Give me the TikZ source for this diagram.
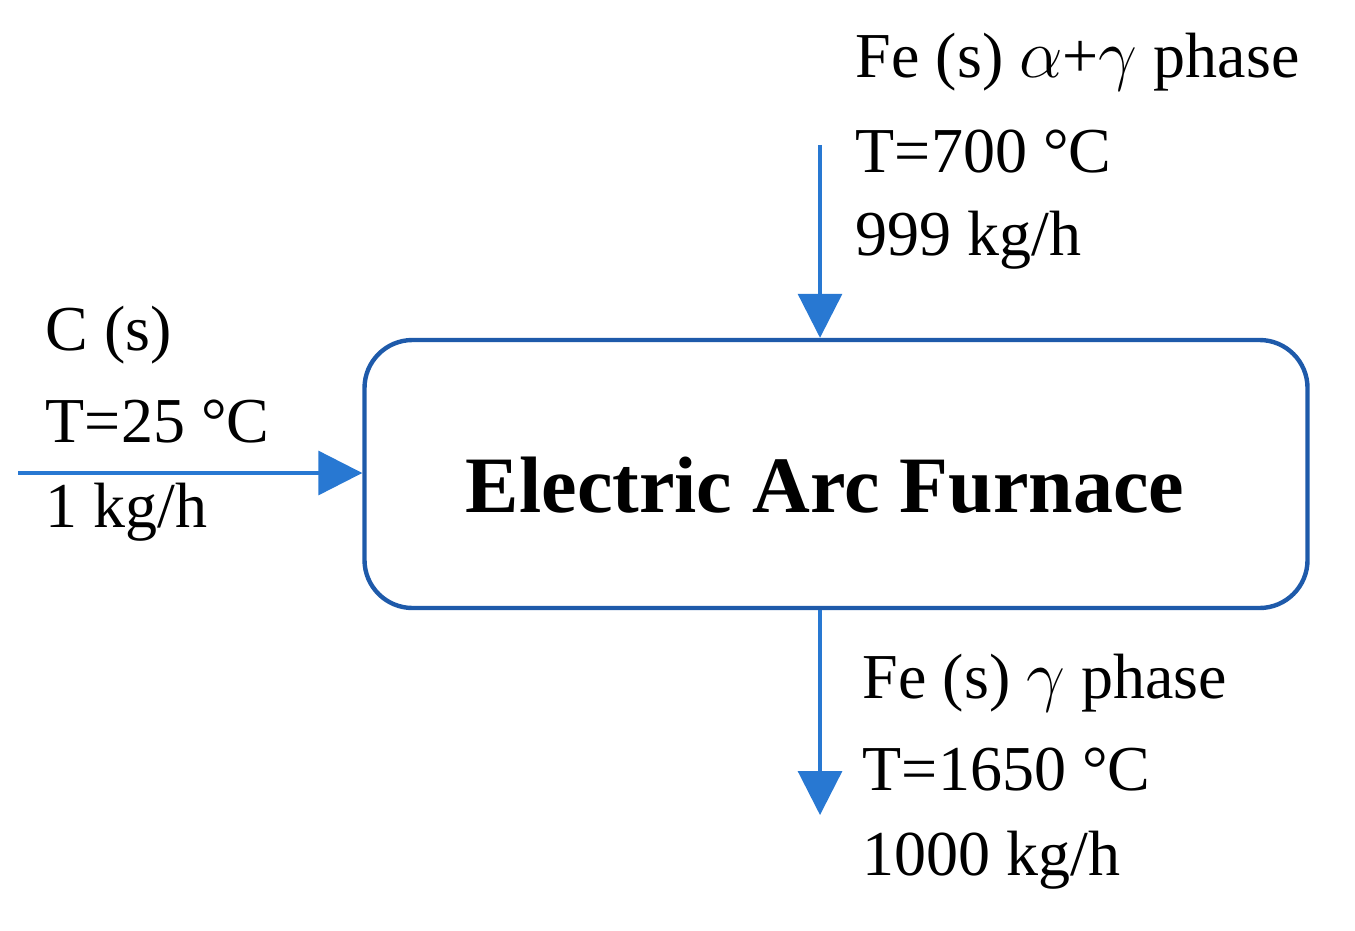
\documentclass[tikz,border=0pt]{standalone}
\usepackage{fontspec}
\setmainfont{Liberation Serif}
\usetikzlibrary{arrows.meta}
\definecolor{boxblue}{RGB}{30,90,170}
\definecolor{arrblue}{RGB}{40,120,210}
\begin{document}
\begin{tikzpicture}[x=0.25pt,y=-0.25pt,
  lbl/.style={anchor=west,font=\fontsize{16}{18}\selectfont,inner sep=0pt},
  flow/.style={draw=arrblue,line width=0.8pt,-{Triangle[length=11pt,width=11pt]}}]
\useasboundingbox (0,0) rectangle (1355,930);
\node[draw=boxblue,line width=1.1pt,rounded corners=12pt,minimum width=943*0.25pt,minimum height=268*0.25pt] (eaf) at (836,474) {};
\node[font=\fontsize{20}{24}\selectfont\bfseries] (title) at (825,485) {Electric Arc Furnace};
\coordinate (lin) at (18,473);
\coordinate (tin) at (820,145);
\coordinate (bout) at (820,815);
\draw[flow] (lin) -- (eaf.west |- lin);
\draw[flow] (tin) -- (eaf.north -| tin);
\draw[flow] (eaf.south -| bout) -- (bout);
\node[lbl] (c1) at (45,335) {C (s)};
\node[lbl] (c2) at (45,422) {T=25 °C};
\node[lbl] (c3) at (45,512) {1 kg/h};
\node[lbl] (t1) at (855,62) {Fe (s) $\alpha$+$\gamma$ phase};
\node[lbl] (t2) at (855,152) {T=700 °C};
\node[lbl] (t3) at (855,240) {999 kg/h};
\node[lbl] (b1) at (862,683) {Fe (s) $\gamma$ phase};
\node[lbl] (b2) at (862,770) {T=1650 °C};
\node[lbl] (b3) at (862,860) {1000 kg/h};
\end{tikzpicture}
\end{document}
